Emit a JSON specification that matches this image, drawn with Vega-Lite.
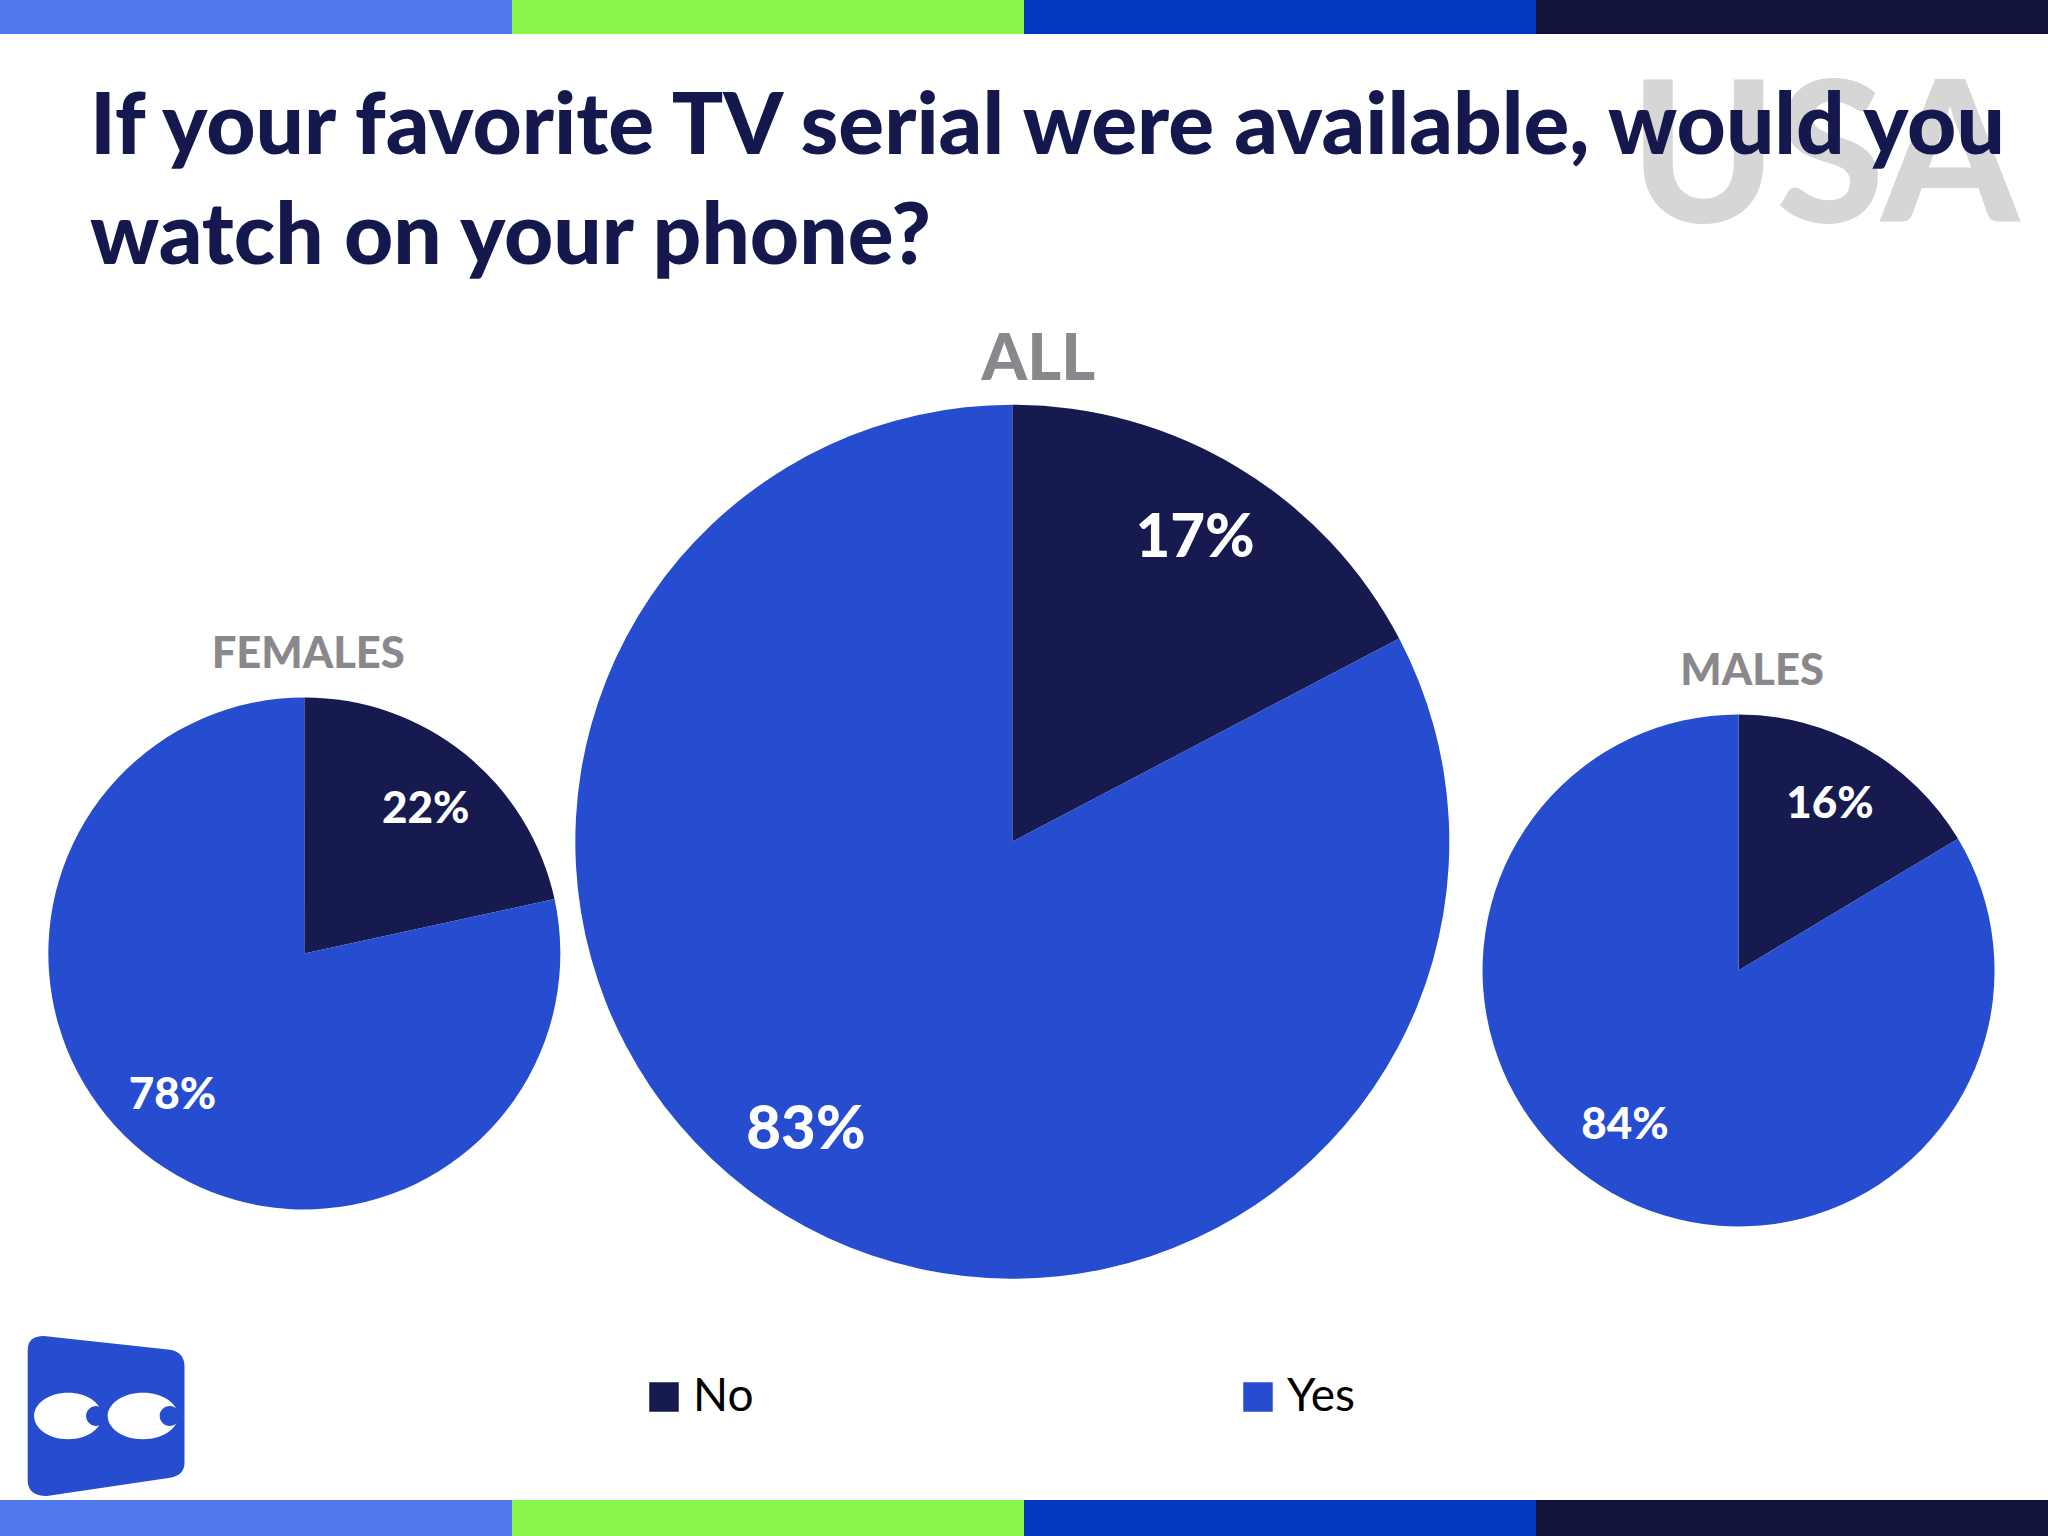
{"$schema":"https://vega.github.io/schema/vega-lite/v6.json","width":2048,"height":1536,"padding":0,"autosize":{"type":"fit","contains":"padding"},"background":"#ffffff","config":{"view":{"stroke":null},"axis":{"disable":true},"text":{"font":"Lato"}},"datasets":{"pies":[{"group":"ALL","answer":"No","share":0.173},{"group":"ALL","answer":"Yes","share":0.827},{"group":"FEMALES","answer":"No","share":0.216},{"group":"FEMALES","answer":"Yes","share":0.784},{"group":"MALES","answer":"No","share":0.164},{"group":"MALES","answer":"Yes","share":0.836}],"stripes":[{"stripe":"s1","order":1,"share":0.25},{"stripe":"s2","order":2,"share":0.25},{"stripe":"s3","order":3,"share":0.25},{"stripe":"s4","order":4,"share":0.25}],"logo":[{"item":"logo"}]},"encoding":{"x":{"type":"quantitative","scale":{"domain":[0,1],"nice":false,"zero":false},"axis":null,"title":null},"y":{"type":"quantitative","scale":{"domain":[0,1],"nice":false,"zero":false,"reverse":true},"axis":null,"title":null}},"layer":[
{"data":{"name":"stripes"},"transform":[{"stack":"share","sort":[{"field":"order"}],"as":["s0","s1"]}],"mark":{"type":"rect"},"encoding":{"x":{"field":"s0","type":"quantitative"},"x2":{"field":"s1"},"y":{"datum":0,"type":"quantitative"},"y2":{"datum":0.0221},"color":{"field":"stripe","type":"nominal","scale":{"domain":["No","Yes","s1","s2","s3","s4"],"range":["#171a4f","#264dcf","#4e78ec","#89f64b","#0039c0","#11133d"]},"legend":{"values":["No","Yes"],"title":null,"orient":"none","legendX":641,"legendY":1374,"direction":"horizontal","columns":2,"symbolType":"square","symbolSize":870,"symbolStrokeWidth":0,"symbolOpacity":1,"labelFont":"Lato","labelFontSize":46,"labelColor":"#000000","labelOffset":6,"columnPadding":481,"labelLimit":300}}}},
{"data":{"name":"stripes"},"transform":[{"stack":"share","sort":[{"field":"order"}],"as":["s0","s1"]}],"mark":{"type":"rect"},"encoding":{"x":{"field":"s0","type":"quantitative"},"x2":{"field":"s1"},"y":{"datum":0.9766,"type":"quantitative"},"y2":{"datum":1},"color":{"field":"stripe","type":"nominal"}}},
{"data":{"values":[{"label":"USA"}]},"mark":{"type":"text","font":"Lato","fontWeight":900,"fontSize":196,"align":"left","baseline":"alphabetic","color":"#d6d6d6"},"encoding":{"x":{"datum":0.796,"type":"quantitative"},"y":{"datum":0.1445,"type":"quantitative"},"text":{"field":"label"}}},
{"data":{"values":[{"label":"If your favorite TV serial were available, would you"}]},"mark":{"type":"text","font":"Lato","fontWeight":900,"fontSize":85.5,"align":"left","baseline":"alphabetic","color":"#14184c"},"encoding":{"x":{"datum":0.044,"type":"quantitative"},"y":{"datum":0.1,"type":"quantitative"},"text":{"field":"label"}}},
{"data":{"values":[{"label":"watch on your phone?"}]},"mark":{"type":"text","font":"Lato","fontWeight":900,"fontSize":85.5,"align":"left","baseline":"alphabetic","color":"#14184c"},"encoding":{"x":{"datum":0.044,"type":"quantitative"},"y":{"datum":0.1722,"type":"quantitative"},"text":{"field":"label"}}},
{"data":{"name":"pies"},"transform":[{"filter":"datum.group==='FEMALES'"}],"mark":{"type":"arc","radius":256},"encoding":{"x":{"datum":0.1486,"type":"quantitative"},"y":{"datum":0.6207,"type":"quantitative"},"theta":{"field":"share","type":"quantitative","stack":true,"scale":{"domain":[0,1]}},"order":{"field":"answer"},"color":{"field":"answer","type":"nominal"}}},
{"data":{"name":"pies"},"transform":[{"filter":"datum.group==='ALL'"}],"mark":{"type":"arc","radius":437},"encoding":{"x":{"datum":0.4943,"type":"quantitative"},"y":{"datum":0.548,"type":"quantitative"},"theta":{"field":"share","type":"quantitative","stack":true},"order":{"field":"answer"},"color":{"field":"answer","type":"nominal"}}},
{"data":{"name":"pies"},"transform":[{"filter":"datum.group==='MALES'"}],"mark":{"type":"arc","radius":256},"encoding":{"x":{"datum":0.8489,"type":"quantitative"},"y":{"datum":0.6318,"type":"quantitative"},"theta":{"field":"share","type":"quantitative","stack":true},"order":{"field":"answer"},"color":{"field":"answer","type":"nominal"}}},
{"data":{"values":[{"label":"FEMALES"}]},"mark":{"type":"text","fontWeight":900,"fontSize":43.5,"color":"#8a888c"},"encoding":{"x":{"datum":0.1505,"type":"quantitative"},"y":{"datum":0.4262,"type":"quantitative"},"text":{"field":"label"}}},
{"data":{"values":[{"label":"ALL"}]},"mark":{"type":"text","fontWeight":900,"fontSize":65,"color":"#8a888c"},"encoding":{"x":{"datum":0.507,"type":"quantitative"},"y":{"datum":0.2345,"type":"quantitative"},"text":{"field":"label"}}},
{"data":{"values":[{"label":"MALES"}]},"mark":{"type":"text","fontWeight":900,"fontSize":43.5,"color":"#8a888c"},"encoding":{"x":{"datum":0.8555,"type":"quantitative"},"y":{"datum":0.4372,"type":"quantitative"},"text":{"field":"label"}}},
{"data":{"name":"pies"},"transform":[{"filter":"datum.group==='ALL'&&datum.answer==='No'"}],"mark":{"type":"text","fontWeight":900,"fontSize":60,"color":"#ffffff"},"encoding":{"x":{"datum":0.5835,"type":"quantitative"},"y":{"datum":0.3512,"type":"quantitative"},"text":{"field":"share","format":".0%"}}},
{"data":{"name":"pies"},"transform":[{"filter":"datum.group==='ALL'&&datum.answer==='Yes'"}],"mark":{"type":"text","fontWeight":900,"fontSize":60,"color":"#ffffff"},"encoding":{"x":{"datum":0.3935,"type":"quantitative"},"y":{"datum":0.7362,"type":"quantitative"},"text":{"field":"share","format":".0%"}}},
{"data":{"name":"pies"},"transform":[{"filter":"datum.group==='FEMALES'&&datum.answer==='No'"}],"mark":{"type":"text","fontWeight":900,"fontSize":44,"color":"#ffffff"},"encoding":{"x":{"datum":0.2079,"type":"quantitative"},"y":{"datum":0.5272,"type":"quantitative"},"text":{"field":"share","format":".0%"}}},
{"data":{"name":"pies"},"transform":[{"filter":"datum.group==='FEMALES'&&datum.answer==='Yes'"}],"mark":{"type":"text","fontWeight":900,"fontSize":44,"color":"#ffffff"},"encoding":{"x":{"datum":0.0842,"type":"quantitative"},"y":{"datum":0.7134,"type":"quantitative"},"text":{"field":"share","format":".0%"}}},
{"data":{"name":"pies"},"transform":[{"filter":"datum.group==='MALES'&&datum.answer==='No'"}],"mark":{"type":"text","fontWeight":900,"fontSize":44,"color":"#ffffff"},"encoding":{"x":{"datum":0.8935,"type":"quantitative"},"y":{"datum":0.5238,"type":"quantitative"},"text":{"field":"share","format":".0%"}}},
{"data":{"name":"pies"},"transform":[{"filter":"datum.group==='MALES'&&datum.answer==='Yes'"}],"mark":{"type":"text","fontWeight":900,"fontSize":44,"color":"#ffffff"},"encoding":{"x":{"datum":0.7934,"type":"quantitative"},"y":{"datum":0.733,"type":"quantitative"},"text":{"field":"share","format":".0%"}}},
{"data":{"name":"logo"},"mark":{"type":"point","filled":true,"opacity":1,"size":25600,"color":"#264dcf","shape":"M-0.78,-1 L0.8,-0.83 Q0.98,-0.8 0.98,-0.62 L0.98,0.58 Q0.98,0.74 0.8,0.77 L-0.74,1 Q-0.98,1 -0.98,0.8 L-0.98,-0.82 Q-0.98,-1 -0.78,-1 Z"},"encoding":{"x":{"datum":0.0518,"type":"quantitative"},"y":{"datum":0.9219,"type":"quantitative"}}},
{"data":{"name":"logo"},"mark":{"type":"point","filled":true,"opacity":1,"size":25600,"color":"#ffffff","shape":"M-0.9,0 A0.425,0.29 0 1 1 -0.05,0 A0.425,0.29 0 1 1 -0.9,0 Z M0.02,0 A0.44,0.29 0 1 1 0.9,0 A0.44,0.29 0 1 1 0.02,0 Z"},"encoding":{"x":{"datum":0.0518,"type":"quantitative"},"y":{"datum":0.9219,"type":"quantitative"}}},
{"data":{"name":"logo"},"mark":{"type":"point","filled":true,"opacity":1,"size":25600,"color":"#264dcf","shape":"M-0.25,0 A0.12,0.12 0 1 1 0,0 A0.12,0.12 0 1 1 -0.25,0 Z M0.67,0 A0.12,0.12 0 1 1 0.92,0 A0.12,0.12 0 1 1 0.67,0 Z"},"encoding":{"x":{"datum":0.0518,"type":"quantitative"},"y":{"datum":0.9219,"type":"quantitative"}}}
]}
